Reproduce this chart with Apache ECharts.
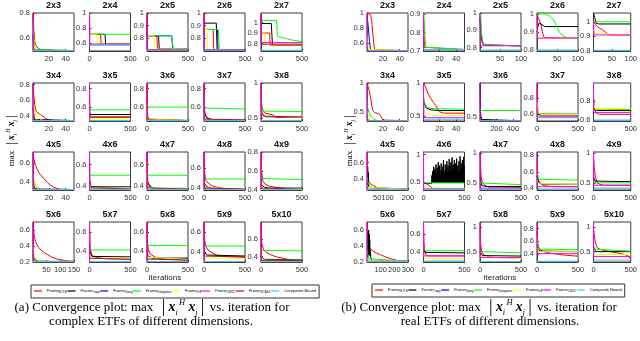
<!DOCTYPE html>
<html><head><meta charset="utf-8">
<script src="https://cdn.jsdelivr.net/npm/echarts@6/dist/echarts.min.js"></script>
<style>html,body{margin:0;padding:0;background:#fff}#c{width:640px;height:341px}</style>
</head><body><div id="c"></div>
<script>
// ---------- DATA ----------
const titles = ['2x3','2x4','2x5','2x6','2x7','3x4','3x5','3x6','3x7','3x8','4x5','4x6','4x7','4x8','4x9','5x6','5x7','5x8','5x9','5x10'];
const seriesNamesA = ['ELITE','Tropp','Xiong','Kalagiotas','IGP','CBOC','SCASC','Composite Bound'];
const seriesNamesB = ['ELITE','Tropp','Xiong','Kalagiotas','IGP','CBOC','Composite Bound'];

// Panel (a): complex ETFs
const xMinA = [1,0,0,0,0, 1,0,0,0,0, 1,0,0,0,0, 1,0,0,0,0];
const xMaxA = [50,500,500,500,500, 50,500,500,500,500, 50,500,500,500,500, 150,500,500,500,500];
const xTicksA = [[20,40],[0,500],[0,500],[0,500],[0,500],[20,40],[0,500],[0,500],[0,500],[0,500],[20,40],[0,500],[0,500],[0,500],[0,500],[50,100,150],[0,500],[0,500],[0,500],[0,500]];
const yMinA = [0.5,0.5,0.7,0.7,0.73, 0.34,0.45,0.45,0.45,0.46, 0.32,0.36,0.36,0.38,0.4, 0.2,0.28,0.29,0.3,0.34];
const yMaxA = [0.8,1,1,1,1.09, 0.82,0.86,0.86,0.86,1, 0.72,0.72,0.72,0.76,0.8, 0.7,0.71,0.7,0.7,0.79];
const yTicksA = [[0.6,0.8],[0.6,0.8,1],[0.8,0.9,1],[0.8,0.9,1],[0.8,0.9,1],[0.4,0.6,0.8],[0.6,0.8],[0.6,0.8],[0.6,0.8],[0.5,1],[0.4,0.6],[0.4,0.6],[0.4,0.6],[0.4,0.6],[0.4,0.6,0.8],[0.2,0.4,0.6],[0.4,0.6],[0.4,0.6],[0.4,0.6],[0.4,0.6]];
const boundA = [0.503,0.58,0.708,0.708,0.735, 0.345,0.455,0.455,0.455,0.465, 0.325,0.365,0.365,0.385,0.405, 0.205,0.285,0.295,0.305,0.345];

const eliteA = [
 [[1,0.8],[2,0.66],[3,0.58],[4,0.55],[6,0.53],[8,0.52],[10,0.51],[13,0.503],[50,0.503]],
 [[0,1],[3,0.72],[135,0.72],[142,0.59],[500,0.59]],
 [[0,0.95],[3,0.82],[120,0.82],[127,0.715],[500,0.715]],
 [[0,1],[3,0.87],[112,0.87],[118,0.71],[500,0.71]],
 [[0,0.9],[105,0.9],[112,0.785],[500,0.785]],
 [[1,0.8],[2,0.66],[3,0.55],[4,0.49],[5,0.46],[7,0.44],[10,0.42],[13,0.4],[16,0.37],[20,0.35],[25,0.345],[50,0.345]],
 [[0,0.86],[3,0.55],[10,0.495],[500,0.495]],
 [[0,0.86],[4,0.6],[10,0.5],[25,0.46],[500,0.455]],
 [[0,0.86],[5,0.6],[15,0.52],[40,0.47],[80,0.462],[500,0.46]],
 [[0,0.9],[10,0.68],[25,0.6],[50,0.57],[100,0.56],[140,0.55],[170,0.52],[200,0.51],[500,0.51]],
 [[1,0.72],[2,0.65],[4,0.58],[7,0.52],[10,0.48],[14,0.44],[18,0.4],[22,0.37],[26,0.35],[30,0.335],[35,0.325],[50,0.325]],
 [[0,0.72],[4,0.45],[10,0.39],[30,0.375],[500,0.37]],
 [[0,0.72],[8,0.45],[30,0.39],[80,0.375],[500,0.37]],
 [[0,0.76],[8,0.55],[20,0.48],[50,0.45],[100,0.42],[150,0.41],[250,0.395],[500,0.39]],
 [[0,0.8],[8,0.6],[20,0.5],[50,0.46],[100,0.44],[200,0.425],[300,0.415],[500,0.41]],
 [[1,0.7],[3,0.6],[6,0.52],[10,0.46],[15,0.42],[22,0.38],[30,0.35],[40,0.32],[55,0.29],[70,0.26],[85,0.24],[100,0.23],[120,0.215],[150,0.21]],
 [[0,0.71],[5,0.5],[12,0.4],[30,0.35],[80,0.33],[200,0.315],[500,0.31]],
 [[0,0.7],[6,0.5],[15,0.42],[40,0.37],[100,0.34],[200,0.325],[300,0.315],[500,0.31]],
 [[0,0.7],[8,0.52],[20,0.46],[50,0.42],[100,0.39],[150,0.37],[250,0.355],[500,0.35]],
 [[0,0.79],[10,0.55],[30,0.48],[60,0.45],[100,0.43],[150,0.41],[200,0.395],[300,0.375],[400,0.36],[500,0.355]]
];
const troppA = [
 [[1,0.62],[2,0.53],[3,0.51],[5,0.503],[50,0.503]],
 [[0,0.75],[3,0.72],[190,0.72],[196,0.59],[500,0.59]],
 [[0,0.85],[5,0.82],[140,0.82],[150,0.715],[500,0.715]],
 [[0,0.92],[150,0.92],[160,0.71],[500,0.71]],
 [[0,1.05],[10,0.99],[125,0.99],[140,0.79],[500,0.79]],
 [[1,0.5],[2,0.4],[3,0.36],[5,0.35],[50,0.345]],
 [[0,0.55],[5,0.52],[500,0.52]],
 [[0,0.55],[10,0.47],[25,0.458],[500,0.456]],
 [[0,0.55],[20,0.5],[50,0.48],[100,0.465],[500,0.463]],
 [[0,0.6],[20,0.55],[60,0.52],[500,0.515]],
 [[1,0.38],[3,0.34],[6,0.327],[50,0.325]],
 [[0,0.45],[10,0.4],[40,0.39],[500,0.39]],
 [[0,0.43],[30,0.41],[60,0.38],[100,0.375],[500,0.375]],
 [[0,0.45],[40,0.41],[100,0.395],[500,0.395]],
 [[0,0.46],[40,0.43],[100,0.42],[500,0.42]],
 [[1,0.3],[4,0.24],[10,0.215],[20,0.207],[150,0.206]],
 [[0,0.4],[30,0.34],[500,0.335]],
 [[0,0.36],[60,0.33],[500,0.33]],
 [[0,0.4],[40,0.37],[500,0.36]],
 [[0,0.4],[40,0.37],[500,0.365]]
];
const xiongA = [
 null, null,
 [[0,0.9],[5,0.82],[300,0.82],[315,0.72],[500,0.712]],
 [[0,0.87],[165,0.87],[172,0.71],[500,0.71]],
 null, null,null,null,null,null, null,null,null,null,null, null,null,null,null,null
];
const kalA = [
 [[1,0.75],[2,0.6],[3,0.54],[4,0.51],[6,0.503],[50,0.503]],
 [[0,0.72],[500,0.72]],
 [[0,0.82],[300,0.82],[320,0.72],[500,0.712]],
 [[0,0.87],[175,0.87],[185,0.71],[500,0.71]],
 [[0,1.0],[10,1.02],[190,1.02],[200,0.87],[300,0.85],[400,0.83],[500,0.82]],
 [[1,0.55],[2,0.42],[3,0.37],[5,0.35],[8,0.346],[50,0.345]],
 [[0,0.57],[500,0.57]],
 [[0,0.6],[500,0.6]],
 [[0,0.59],[500,0.58]],
 [[0,0.75],[15,0.62],[40,0.6],[500,0.595]],
 [[1,0.45],[3,0.38],[6,0.34],[10,0.327],[50,0.325]],
 [[0,0.5],[500,0.5]],
 [[0,0.5],[500,0.5]],
 [[0,0.49],[500,0.49]],
 [[0,0.62],[15,0.52],[500,0.51]],
 [[1,0.36],[5,0.27],[12,0.23],[20,0.21],[30,0.206],[150,0.206]],
 [[0,0.41],[500,0.41]],
 [[0,0.46],[500,0.46]],
 [[0,0.46],[500,0.46]],
 [[0,0.5],[10,0.47],[500,0.465]]
];
const igpA = [
 [[1,0.68],[2,0.56],[3,0.52],[4,0.503],[50,0.503]],
 [[0,0.72],[85,0.72],[92,0.59],[500,0.59]],
 [[0,0.82],[85,0.82],[92,0.715],[500,0.715]],
 [[0,0.87],[40,0.87],[48,0.71],[500,0.71]],
 [[0,0.9],[45,0.9],[55,0.79],[500,0.79]],
 [[1,0.62],[2,0.5],[4,0.43],[6,0.4],[9,0.37],[12,0.35],[16,0.345],[50,0.345]],
 [[0,0.55],[5,0.47],[500,0.47]],
 [[0,0.55],[8,0.47],[20,0.457],[500,0.456]],
 [[0,0.53],[15,0.48],[40,0.466],[500,0.463]],
 [[0,0.6],[20,0.53],[40,0.51],[500,0.51]],
 [[1,0.47],[3,0.4],[5,0.36],[8,0.335],[12,0.326],[50,0.325]],
 [[0,0.42],[15,0.38],[500,0.375]],
 [[0,0.42],[20,0.38],[500,0.375]],
 [[0,0.43],[30,0.4],[500,0.395]],
 [[0,0.44],[30,0.42],[60,0.415],[500,0.415]],
 [[1,0.42],[3,0.33],[6,0.27],[10,0.24],[15,0.22],[25,0.206],[150,0.206]],
 [[0,0.36],[20,0.32],[500,0.32]],
 [[0,0.34],[20,0.32],[500,0.315]],
 [[0,0.36],[30,0.34],[500,0.335]],
 [[0,0.4],[30,0.365],[60,0.36],[500,0.36]]
];
const cbocA = [
 [[1,0.8],[1.3,0.503],[50,0.503]],
 [[0,1],[2,0.58],[500,0.58]],
 [[0,1],[2,0.708],[500,0.708]],
 [[0,1],[2,0.708],[500,0.708]],
 [[0,1.09],[3,0.81],[500,0.81]],
 [[1,0.82],[1.3,0.345],[50,0.345]],
 [[0,0.86],[2,0.455],[500,0.455]],
 [[0,0.86],[2,0.455],[500,0.455]],
 [[0,0.86],[2,0.455],[500,0.455]],
 [[0,1],[2,0.465],[500,0.465]],
 [[1,0.72],[1.3,0.325],[50,0.325]],
 [[0,0.72],[2,0.365],[500,0.365]],
 [[0,0.72],[2,0.365],[500,0.365]],
 [[0,0.76],[2,0.385],[500,0.385]],
 [[0,0.8],[2,0.405],[500,0.405]],
 [[1,0.7],[1.3,0.205],[150,0.205]],
 [[0,0.71],[2,0.285],[500,0.285]],
 [[0,0.7],[2,0.295],[500,0.295]],
 [[0,0.7],[2,0.305],[500,0.305]],
 [[0,0.79],[2,0.345],[500,0.345]]
];
const scascA = [
 [[1,0.8],[1.5,0.52],[2,0.503],[50,0.503]],
 [[0,1],[2,0.59],[500,0.59]],
 [[0,1],[2,0.71],[500,0.71]],
 [[0,1],[2,0.71],[500,0.71]],
 [[0,1.09],[3,0.795],[500,0.795]],
 [[1,0.82],[1.3,0.5],[2,0.4],[3,0.35],[50,0.345]],
 [[0,0.86],[3,0.49],[500,0.49]],
 [[0,0.86],[3,0.46],[500,0.455]],
 [[0,0.86],[3,0.47],[500,0.462]],
 [[0,1],[5,0.6],[30,0.53],[500,0.515]],
 [[1,0.72],[1.3,0.4],[3,0.33],[50,0.325]],
 [[0,0.72],[3,0.38],[500,0.37]],
 [[0,0.72],[3,0.38],[500,0.37]],
 [[0,0.76],[3,0.4],[500,0.39]],
 [[0,0.8],[3,0.42],[500,0.41]],
 [[1,0.7],[1.5,0.3],[3,0.21],[150,0.206]],
 [[0,0.71],[3,0.32],[500,0.31]],
 [[0,0.7],[3,0.32],[500,0.31]],
 [[0,0.7],[3,0.36],[500,0.35]],
 [[0,0.79],[3,0.36],[500,0.355]]
];

// Panel (b): real ETFs
const xMinB = [1,1,1,1,1, 1,1,0,0,0, 0,0,0,0,0, 0,0,0,0,0];
const xMaxB = [50,50,100,100,100, 50,50,500,500,500, 200,500,500,500,500, 300,500,500,500,500];
const xTicksB = [[20,40],[20,40],[50,100],[50,100],[50,100],[20,40],[20,40],[200,400],[0,500],[0,500],[50,100,150,200],[0,500],[0,500],[0,500],[0,500],[100,200,300],[0,500],[0,500],[0,500],[0,500]];
const yMinB = [0.5,0.7,0.78,0.795,0.8, 0.333,0.42,0.447,0.52,0.59, 0.27,0.35,0.38,0.38,0.38, 0.2,0.28,0.29,0.28,0.29];
const yMaxB = [1,0.905,1,1.005,1.06, 1,1,1,0.98,0.99, 0.73,1.05,1.02,0.84,1.02, 0.7,0.74,1.1,0.9,1.1];
const yTicksB = [[0.6,0.8,1],[0.7,0.8,0.9],[0.8,0.9,1],[0.8,0.9,1],[0.8,0.9,1],[0.5,1],[0.5,1],[0.5],[0.6,0.8],[0.6,0.8],[0.4,0.6],[0.5,1],[0.5,1],[0.4,0.6,0.8],[0.5,1],[0.2,0.4,0.6],[0.4,0.6],[0.5,1],[0.4,0.6,0.8],[0.5,1]];
const boundB = [0.503,0.708,0.785,0.8,0.805, 0.337,0.447,0.45,0.56,0.6, 0.275,0.36,0.39,0.39,0.41, 0.205,0.29,0.3,0.29,0.33];

const eliteB = [
 [[1,1],[3,0.995],[5,0.98],[6,0.94],[7,0.85],[8,0.72],[9,0.6],[10,0.52],[11,0.503],[50,0.503]],
 [[1,0.9],[2,0.72],[3,0.71],[50,0.708]],
 [[1,1],[3,0.9],[6,0.83],[10,0.815],[100,0.81]],
 [[1,1],[5,0.97],[10,0.95],[14,0.9],[18,0.87],[100,0.866]],
 [[1,1.0],[5,0.99],[10,0.97],[18,0.955],[25,0.945],[32,0.93],[40,0.915],[46,0.91],[100,0.91]],
 [[1,1],[3,0.97],[4,0.85],[6,0.68],[7,0.58],[8,0.52],[10,0.48],[13,0.47],[16,0.45],[18,0.44],[20,0.35],[22,0.337],[50,0.337]],
 [[1,1],[4,0.92],[7,0.82],[10,0.76],[13,0.7],[16,0.65],[19,0.58],[22,0.55],[25,0.54],[50,0.54]],
 null,
 [[0,0.9],[8,0.68],[20,0.6],[50,0.58],[500,0.58]],
 [[0,0.85],[10,0.72],[40,0.67],[80,0.66],[500,0.66]],
 [[1,0.72],[4,0.42],[10,0.36],[20,0.34],[35,0.32],[50,0.3],[60,0.28],[200,0.28]],
 [[0,0.5],[40,0.46],[80,0.42],[110,0.38],[120,0.37],[500,0.37]],
 [[0,1],[8,0.75],[15,0.6],[30,0.5],[60,0.46],[100,0.43],[500,0.425]],
 [[0,0.7],[8,0.56],[20,0.49],[50,0.45],[100,0.43],[200,0.42],[500,0.42]],
 [[0,0.98],[10,0.75],[25,0.6],[50,0.5],[100,0.47],[150,0.46],[500,0.46]],
 [[1,0.7],[5,0.55],[10,0.45],[20,0.38],[40,0.34],[70,0.31],[100,0.29],[140,0.26],[180,0.24],[220,0.22],[240,0.21],[300,0.21]],
 [[0,0.72],[6,0.5],[15,0.4],[30,0.36],[60,0.35],[500,0.35]],
 [[0,0.95],[8,0.65],[20,0.5],[50,0.43],[100,0.4],[200,0.38],[500,0.37]],
 [[0,0.75],[10,0.56],[30,0.48],[80,0.44],[150,0.42],[250,0.4],[350,0.385],[450,0.375],[500,0.37]],
 [[0,1],[10,0.85],[25,0.68],[50,0.58],[100,0.54],[200,0.51],[300,0.48],[400,0.45],[460,0.42],[500,0.35]]
];
const tropp4x6B = [[0,0.47],[100,0.47],[103,0.62],[106,0.48],[110,0.7],[113,0.49],[117,0.66],[120,0.48],[124,0.78],[127,0.5],[131,0.6],[134,0.48],[138,0.74],[141,0.49],[145,0.68],[148,0.48],[152,0.82],[155,0.5],[159,0.64],[162,0.48],[166,0.76],[169,0.49],[173,0.7],[176,0.48],[180,0.86],[183,0.5],[187,0.66],[190,0.48],[194,0.8],[197,0.49],[201,0.72],[204,0.48],[208,0.62],[211,0.5],[215,0.84],[218,0.48],[222,0.7],[225,0.49],[229,0.78],[232,0.48],[236,0.66],[239,0.5],[243,0.9],[246,0.48],[250,0.72],[253,0.49],[257,0.64],[260,0.48],[264,0.82],[267,0.5],[271,0.7],[274,0.48],[278,0.76],[281,0.49],[285,0.88],[288,0.48],[292,0.68],[295,0.5],[299,0.8],[302,0.48],[306,0.72],[309,0.49],[313,0.92],[316,0.48],[320,0.66],[323,0.5],[327,0.78],[330,0.48],[334,0.86],[337,0.49],[341,0.7],[344,0.48],[348,0.95],[351,0.5],[355,0.74],[358,0.48],[362,0.82],[365,0.49],[369,0.68],[372,0.48],[376,0.9],[379,0.5],[383,0.76],[386,0.48],[390,0.84],[393,0.49],[397,0.7],[400,0.48],[404,0.93],[407,0.5],[411,0.72],[414,0.48],[418,0.8],[421,0.49],[425,0.66],[428,0.48],[432,0.88],[435,0.5],[439,0.74],[442,0.48],[446,0.97],[449,0.49],[453,0.7],[456,0.48],[460,0.84],[463,0.5],[467,0.76],[470,0.48],[474,0.9],[477,0.49],[481,0.72],[484,0.48],[488,0.96],[491,0.5],[495,0.8],[498,0.48],[500,0.49]];
const troppB = [
 null,
 null,
 [[1,0.97],[3,0.9],[6,0.84],[10,0.82],[15,0.815],[100,0.81]],
 [[1,0.9],[3,0.93],[6,0.95],[10,0.94],[20,0.93],[100,0.93]],
 [[1,1.06],[4,1.03],[8,0.99],[15,0.985],[100,0.985]],
 null,
 [[1,0.72],[4,0.62],[10,0.59],[20,0.58],[50,0.58]],
 [[0,1],[5,0.6],[15,0.47],[30,0.45],[500,0.45]],
 [[0,0.65],[20,0.6],[500,0.6]],
 [[0,0.78],[15,0.71],[60,0.7],[500,0.7]],
 [[2,0.3],[3,0.56],[5,0.55],[6,0.33],[7,0.48],[8,0.3],[15,0.29],[200,0.28]],
 tropp4x6B,
 [[0,0.6],[20,0.46],[60,0.44],[500,0.44]],
 [[0,0.55],[20,0.47],[60,0.45],[500,0.45]],
 [[0,0.6],[20,0.53],[500,0.52]],
 [[5,0.22],[8,0.58],[10,0.3],[12,0.6],[14,0.28],[16,0.55],[18,0.3],[20,0.48],[22,0.28],[25,0.35],[28,0.25],[35,0.22],[300,0.21]],
 [[0,0.45],[20,0.39],[500,0.385]],
 [[0,0.5],[30,0.42],[500,0.41]],
 [[0,0.55],[30,0.45],[500,0.44]],
 [[0,0.6],[30,0.5],[500,0.5]]
];
const xiongB = [
 [[1,0.95],[2,0.88],[3,0.75],[4,0.62],[5,0.54],[6,0.503],[50,0.503]],
 null,null,null,null, null,null,null,null,null, null,null,null,null,null, null,null,null,null,null
];
const kalB = [
 [[1,0.62],[2,0.55],[3,0.503],[50,0.503]],
 [[1,0.9],[2,0.85],[3,0.76],[4,0.72],[6,0.71],[50,0.708]],
 [[1,1],[3,0.97],[5,0.87],[8,0.83],[12,0.815],[100,0.81]],
 [[1,1],[20,1],[30,0.99],[40,0.97],[45,0.95],[50,0.92],[55,0.9],[60,0.885],[70,0.872],[80,0.868],[100,0.866]],
 [[1,1.0],[100,1.0]],
 [[1,0.68],[2,0.55],[4,0.46],[6,0.41],[9,0.37],[12,0.345],[16,0.337],[50,0.337]],
 [[1,0.78],[3,0.67],[6,0.63],[10,0.61],[50,0.6]],
 [[0,0.6],[500,0.6]],
 [[0,0.68],[15,0.61],[500,0.605]],
 [[0,0.9],[5,0.75],[20,0.715],[500,0.71]],
 [[1,0.42],[5,0.36],[12,0.33],[20,0.3],[28,0.285],[200,0.28]],
 [[0,0.48],[500,0.48]],
 [[0,0.5],[500,0.47]],
 [[0,0.6],[20,0.51],[500,0.5]],
 [[0,0.55],[20,0.5],[500,0.5]],
 [[1,0.35],[8,0.28],[15,0.24],[25,0.22],[300,0.21]],
 [[0,0.45],[20,0.41],[500,0.41]],
 [[0,0.5],[20,0.48],[500,0.475]],
 [[0,0.6],[20,0.48],[500,0.47]],
 [[0,0.55],[20,0.51],[500,0.51]]
];
const igpB = [
 [[1,0.7],[2,0.58],[3,0.52],[4,0.503],[50,0.503]],
 null,
 null,
 [[1,0.92],[3,0.88],[5,0.866],[100,0.866]],
 [[1,0.95],[3,0.92],[5,0.91],[100,0.91]],
 [[1,0.52],[3,0.4],[5,0.36],[8,0.34],[50,0.337]],
 [[1,0.58],[5,0.54],[12,0.5],[20,0.5],[50,0.505]],
 null,
 [[0,0.75],[15,0.62],[40,0.6],[500,0.6]],
 [[0,0.78],[20,0.72],[500,0.72]],
 [[1,0.33],[5,0.3],[10,0.285],[200,0.28]],
 [[0,0.4],[30,0.38],[500,0.38]],
 null,
 [[0,0.5],[20,0.455],[500,0.45]],
 null,
 [[1,0.26],[5,0.22],[300,0.21]],
 [[0,0.36],[20,0.32],[500,0.32]],
 [[0,0.4],[20,0.36],[500,0.36]],
 [[0,0.5],[20,0.44],[500,0.44]],
 [[0,0.5],[10,0.46],[40,0.44],[500,0.44]]
];
const cbocB = [
 [[1,1],[1.5,0.503],[50,0.503]],
 [[1,0.905],[1.5,0.708],[50,0.708]],
 [[1,1],[2,0.81],[100,0.81]],
 [[1,1],[2,0.866],[100,0.866]],
 [[1,1],[2,0.91],[100,0.91]],
 [[1,1],[1.5,0.36],[5,0.34],[50,0.337]],
 [[1,1],[1.5,0.47],[50,0.47]],
 [[0,1],[3,0.45],[500,0.45]],
 [[0,0.98],[3,0.58],[500,0.58]],
 [[0,0.99],[3,0.68],[500,0.68]],
 [[0,0.73],[1,0.28],[200,0.28]],
 [[0,1.05],[3,0.37],[500,0.37]],
 [[0,1.02],[3,0.41],[500,0.41]],
 [[0,0.84],[3,0.42],[500,0.42]],
 [[0,1.02],[3,0.46],[500,0.46]],
 [[0,0.7],[1,0.21],[300,0.21]],
 [[0,0.74],[3,0.35],[500,0.35]],
 [[0,1.1],[3,0.38],[500,0.38]],
 [[0,0.9],[3,0.41],[500,0.41]],
 [[0,1.1],[3,0.4],[500,0.4]]
];

// ---------- LAYOUT (styles/positions only) ----------
const colXA = [33, 89.5, 147, 204, 261];
const colXB = [367, 423.5, 480, 537, 593.5];
const rowY = [13, 83, 152, 222];
const rowH = [38, 38, 38, 40];
const plotW = 41;
const COLORS = {ELITE:'#ff0000', Tropp:'#000000', Xiong:'#0000ff', Kalagiotas:'#00ff00', IGP:'#ffff00', CBOC:'#ff00ff', SCASC:'#a2142f', 'Composite Bound':'#4dbeee'};
const TICKFONT = 'Liberation Sans Narrow, Liberation Sans, sans-serif';

const panels = [
 {colX: colXA, xMin: xMinA, xMax: xMaxA, xTicks: xTicksA, yMin: yMinA, yMax: yMaxA, yTicks: yTicksA, bound: boundA,
  data: {ELITE: eliteA, Tropp: troppA, Xiong: xiongA, Kalagiotas: kalA, IGP: igpA, SCASC: scascA, CBOC: cbocA}},
 {colX: colXB, xMin: xMinB, xMax: xMaxB, xTicks: xTicksB, yMin: yMinB, yMax: yMaxB, yTicks: yTicksB, bound: boundB,
  data: {ELITE: eliteB, Tropp: troppB, Xiong: xiongB, Kalagiotas: kalB, IGP: igpB, CBOC: cbocB}}
];
const drawOrder = ['ELITE','Tropp','Xiong','Kalagiotas','IGP','SCASC','CBOC'];
const fmt = v => String(Math.round(v * 1000) / 1000);

const option = {animation: false, grid: [], xAxis: [], yAxis: [], series: [], graphic: [], legend: []};

panels.forEach((p) => {
  for (let k = 0; k < 20; k++) {
    const r = Math.floor(k / 5), c = k % 5;
    const gi = option.grid.length;
    option.grid.push({left: p.colX[c], top: rowY[r], width: plotW, height: rowH[r], show: true, borderColor: '#3a3a3a', borderWidth: 1, backgroundColor: '#fff'});
    option.xAxis.push({type: 'value', gridIndex: gi, min: p.xMin[k], max: p.xMax[k], splitLine: {show: false},
      axisLine: {onZero: false, lineStyle: {color: '#3a3a3a'}},
      axisTick: {inside: true, length: 2, customValues: p.xTicks[k], lineStyle: {color: '#3a3a3a'}},
      axisLabel: {customValues: p.xTicks[k], fontSize: 7.5, fontFamily: TICKFONT, color: '#333', margin: 4, formatter: fmt,
        hideOverlap: false, showMinLabel: true, showMaxLabel: true, interval: 0}});
    option.yAxis.push({type: 'value', gridIndex: gi, min: p.yMin[k], max: p.yMax[k], splitLine: {show: false},
      axisLine: {onZero: false, lineStyle: {color: '#3a3a3a'}},
      axisTick: {inside: true, length: 2, customValues: p.yTicks[k], lineStyle: {color: '#3a3a3a'}},
      axisLabel: {customValues: p.yTicks[k], fontSize: 7.5, fontFamily: TICKFONT, color: '#333', margin: 3, formatter: fmt,
        hideOverlap: false, showMinLabel: true, showMaxLabel: true}});
    drawOrder.forEach(name => {
      const arr = p.data[name];
      if (!arr || !arr[k]) return;
      option.series.push({type: 'line', name: name, xAxisIndex: gi, yAxisIndex: gi, data: arr[k], symbol: 'none', silent: true,
        lineStyle: {width: 1, color: COLORS[name]}, itemStyle: {color: COLORS[name]}});
    });
    option.series.push({type: 'line', name: 'Composite Bound', xAxisIndex: gi, yAxisIndex: gi,
      data: [[p.xMin[k], p.bound[k]], [p.xMax[k], p.bound[k]]], symbol: 'none', silent: true,
      lineStyle: {width: 1.2, color: COLORS['Composite Bound']}, itemStyle: {color: COLORS['Composite Bound']}});
    option.graphic.push({type: 'text', silent: true, style: {x: p.colX[c] + plotW / 2, y: rowY[r] - 7.5, text: titles[k],
      align: 'center', verticalAlign: 'middle', textAlign: 'center', textVerticalAlign: 'middle',
      font: 'bold 9px "Liberation Sans Narrow", "Liberation Sans", sans-serif', fill: '#111'}});
  }
});

const legendFmt = n => n === 'Composite Bound' ? n : 'Frame{s|' + n + '}';
const legendBase = {orient: 'horizontal', icon: 'rect', itemWidth: 8, itemHeight: 1.2, itemGap: 0.5, padding: [4, 3, 4, 3],
  borderColor: '#333', borderWidth: 1, selectedMode: false, formatter: legendFmt, backgroundColor: '#fff',
  textStyle: {fontSize: 4, fontFamily: TICKFONT, color: '#000',
    rich: {s: {fontSize: 3, fontFamily: TICKFONT, padding: [3, 0, 0, 0]}}}};
option.legend.push(Object.assign({}, legendBase, {data: seriesNamesA, left: 31, top: 285, width: 300}));
option.legend.push(Object.assign({}, legendBase, {data: seriesNamesB, left: 372, top: 284, width: 265}));

// axis titles and captions
const mathRich = (fs) => ({
  t: {fontFamily: 'Liberation Serif', fontSize: fs, color: '#000'},
  bar: {fontFamily: 'Liberation Serif', fontSize: fs * 1.4, color: '#000', padding: [0, fs * 0.15, 0, fs * 0.15]},
  x: {fontFamily: 'Liberation Serif', fontSize: fs * 1.05, fontStyle: 'italic', fontWeight: 'bold', color: '#000', padding: [0, 0, 0, fs * 0.1]},
  sup: {fontFamily: 'Liberation Serif', fontSize: fs * 0.65, fontStyle: 'italic', verticalAlign: 'top', color: '#000', padding: [0, fs * 0.15, 0, 0]},
  sub: {fontFamily: 'Liberation Serif', fontSize: fs * 0.65, fontStyle: 'italic', verticalAlign: 'bottom', color: '#000', padding: [0, fs * 0.1, 0, 0]}
});
const mathExpr = '{t|max  }{bar||}{x|x}{sub|i}{sup|H}{x|x}{sub|j}{bar||}';
[[12, 140], [350, 140]].forEach(([x, y]) => {
  option.graphic.push({type: 'text', silent: true, x: x, y: y, rotation: Math.PI / 2,
    style: {x: 0, y: 0, text: mathExpr, rich: mathRich(9), align: 'center', verticalAlign: 'middle', textAlign: 'center', textVerticalAlign: 'middle'}});
});
[[165, 278], [500, 278]].forEach(([x, y]) => {
  option.graphic.push({type: 'text', silent: true, style: {x: x, y: y, text: 'iterations', align: 'center', verticalAlign: 'middle',
    textAlign: 'center', textVerticalAlign: 'middle', font: '8px "Liberation Sans Narrow", "Liberation Sans", sans-serif', fill: '#222'}});
});
const caps = [
  [152, 307.5, '{t|(a) Convergence plot: }' + mathExpr + '{t| vs. iteration for}'],
  [151, 322, '{t|complex ETFs of different dimensions.}'],
  [479, 307.5, '{t|(b) Convergence plot: }' + mathExpr + '{t| vs. iteration for}'],
  [490, 322, '{t|real ETFs of different dimensions.}']
];
caps.forEach(([x, y, txt]) => {
  option.graphic.push({type: 'text', silent: true, style: {x: x, y: y, text: txt, rich: mathRich(13), align: 'center', verticalAlign: 'middle', textAlign: 'center', textVerticalAlign: 'middle'}});
});

const chart = echarts.init(document.getElementById('c'), null, {renderer: 'canvas'});
chart.setOption(option);
</script></body></html>
